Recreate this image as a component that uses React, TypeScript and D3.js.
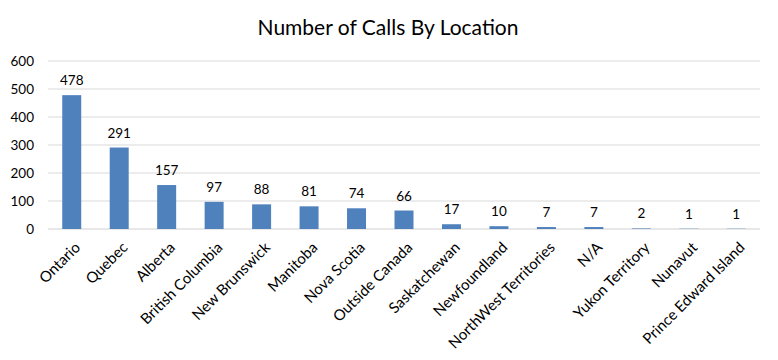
import React from "react";
import * as d3 from "d3";

const categories = ["Ontario","Quebec","Alberta","British Columbia","New Brunswick","Manitoba","Nova Scotia","Outside Canada","Saskatchewan","Newfoundland","NorthWest Territories","N/A","Yukon Territory","Nunavut","Prince Edward Island"];
const calls = [478,291,157,97,88,81,74,66,17,10,7,7,2,1,1];
const yTicks = [0,100,200,300,400,500,600];
const title = "Number of Calls By Location";

const W = 778, H = 360;
const left = 48, right = 760, top = 61, bottom = 229;
const FONT = "Lato, 'Open Sans', sans-serif";

export default function App() {
  const x = d3.scaleBand<string>().domain(categories).range([left, right]).paddingInner(0.6).paddingOuter(0.3);
  const y = d3.scaleLinear().domain([0, 600]).range([bottom, top]);
  return (
    <svg width={W} height={H} style={{ position: "absolute", left: 0, top: 0, background: "#fff" }} fontFamily={FONT}>
      <rect width={W} height={H} fill="#fff" />
      <text x={388} y={35} textAnchor="middle" fontSize={21} fill="#000">{title}</text>
      {yTicks.map(t => (
        <g key={t}>
          <line x1={left} x2={right} y1={y(t)} y2={y(t)} stroke={t === 0 ? "#d0d0d0" : "#d9d9d9"} strokeWidth={1} />
          <text x={34} y={y(t)} dy="0.35em" textAnchor="end" fontSize={13.5} fill="#000">{t}</text>
        </g>
      ))}
      {categories.map((c, i) => {
        const bx = x(c)!;
        const bw = x.bandwidth();
        const cx = bx + bw / 2;
        return (
          <g key={c}>
            <rect x={bx} y={y(calls[i])} width={bw} height={bottom - y(calls[i])} fill="#4f81bd" />
            <text x={cx} y={y(calls[i]) - 10} textAnchor="middle" fontSize={13.5} fill="#000">{calls[i]}</text>
            <text transform={`translate(${cx + 2},${bottom + 12}) rotate(-45)`} textAnchor="end" dy="0.7em" fontSize={15} fill="#000">{c}</text>
          </g>
        );
      })}
    </svg>
  );
}
